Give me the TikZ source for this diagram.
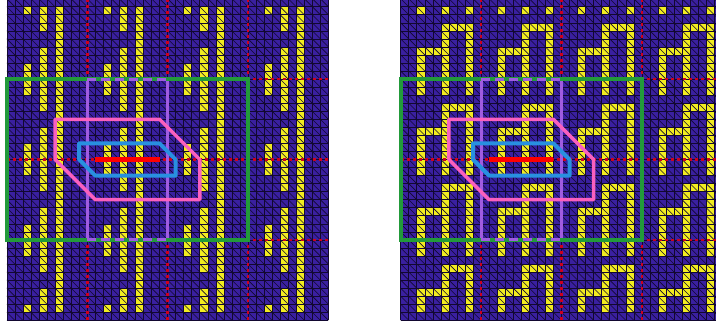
\documentclass[tikz,border=0pt]{standalone}
\definecolor{bgblue}{RGB}{58,32,160}
\definecolor{meshcol}{RGB}{18,8,48}
\definecolor{cellyel}{RGB}{242,236,32}
\definecolor{dotred}{RGB}{205,0,30}
\definecolor{boxgreen}{RGB}{34,154,58}
\definecolor{boxpurple}{RGB}{160,92,224}
\definecolor{hexpink}{RGB}{250,96,190}
\definecolor{hexblue}{RGB}{40,144,224}
\definecolor{segred}{RGB}{255,0,0}
\tikzset{
  mesh/.style={line width=0.6pt, meshcol},
  ycell/.style={fill=cellyel},
  panelbg/.style={fill=bgblue},
  tileline/.style={dotred, line width=2.6pt, dash pattern=on 3pt off 3pt},
  greenbox/.style={boxgreen, line width=3.8pt},
  purpleedge/.style={boxpurple, line width=3pt},
  purpledash/.style={boxpurple, line width=3pt, dash pattern=on 9pt off 5pt},
  pinkhex/.style={hexpink, line width=3.5pt, line join=round},
  bluehex/.style={hexblue, line width=4pt, line join=round},
  redseg/.style={segred, line width=4.5pt},
}
\newcommand\drawmesh{%
  \foreach \i in {0,...,40} {\draw[mesh] (\i,0) -- (\i,40); \draw[mesh] (0,\i) -- (40,\i);}
  \begin{scope}
    \clip (0,0) rectangle (40,40);
    \foreach \k in {-40,...,40} {\draw[mesh] (\k,0) -- (\k+40,40);}
  \end{scope}}
\newcommand\drawoverlays{%
  \foreach \v in {10,20,30} {\draw[tileline] (\v,0) -- (\v,40); \draw[tileline] (0,\v) -- (40,\v);}
  \draw[purpleedge] (10,10) -- (10,30);
  \draw[purpleedge] (20,10) -- (20,30);
  \draw[greenbox] (0,10) rectangle (30,30);
  \draw[purpledash] (10,10) -- (20,10);
  \draw[purpledash] (10,30) -- (20,30);
  \draw[pinkhex] (6,15) -- (19,15) -- (24,20) -- (24,25) -- (11,25) -- (6,20) -- cycle;
  \draw[bluehex] (9,18) -- (19,18) -- (21,20) -- (21,22) -- (11,22) -- (9,20) -- cycle;
  \draw[redseg] (11,20) -- (19,20);}
\begin{document}
\begin{tikzpicture}[x=1pt,y=-1pt]
  \useasboundingbox (0,0) rectangle (716,322);
  \clip (0,0) rectangle (716,322);
  % left panel
  \begin{scope}[shift={(6.8,-1.3)}, scale=8.04]
    \fill[panelbg] (0,0) rectangle (40,40);
    \foreach \tx in {0,10,20,30} {
      \foreach \c/\a/\b in {2/1/1, 2/8/11, 2/18/21, 2/28/31, 2/38/38,
                            4/1/3, 4/6/13, 4/16/23, 4/26/33, 4/36/38,
                            6/1/38} {
        \fill[ycell] (\tx+\c,\a) rectangle (\tx+\c+1,\b+1);
      }
    }
    \drawmesh
    \drawoverlays
  \end{scope}
  % right panel
  \begin{scope}[shift={(400.7,-1.3)}, scale=8.04]
    \fill[panelbg] (0,0) rectangle (40,40);
    \foreach \tx in {0,10,20,30} {
      \foreach \c/\a/\b in {2/1/1, 2/6/11, 2/16/21, 2/26/31, 2/36/38,
                            5/1/1, 5/3/11, 5/13/21, 5/23/31, 5/33/38,
                            8/1/1, 8/3/11, 8/13/21, 8/23/31, 8/33/38} {
        \fill[ycell] (\tx+\c,\a) rectangle (\tx+\c+1,\b+1);
      }
      \foreach \r in {3,13,23,33} {\fill[ycell] (\tx+5,\r) rectangle (\tx+9,\r+1);}
      \foreach \r in {6,16,26,36} {\fill[ycell] (\tx+2,\r) rectangle (\tx+6,\r+1);}
    }
    \drawmesh
    \drawoverlays
  \end{scope}
\end{tikzpicture}
\end{document}
